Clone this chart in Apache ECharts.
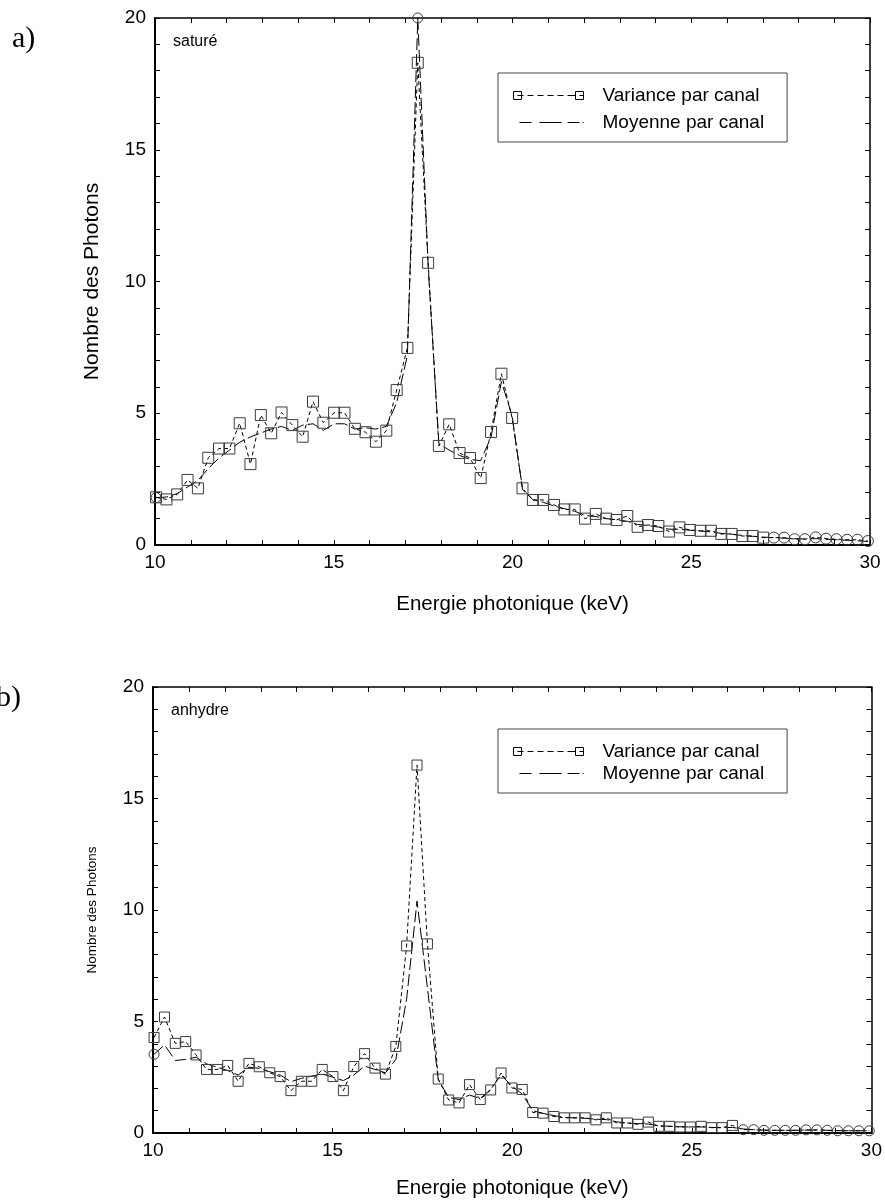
<!DOCTYPE html>
<html>
<head>
<meta charset="utf-8">
<script src="https://cdn.jsdelivr.net/npm/echarts@6/dist/echarts.min.js"></script>
<style>
  html, body { margin: 0; padding: 0; background: #fff; }
  #chart { width: 885px; height: 1200px; }
</style>
</head>
<body>
<div id="chart"></div>
<script>
// Channel energies (keV)
const energies = [
  10.03, 10.32, 10.62, 10.91, 11.20, 11.49, 11.79, 12.08, 12.37, 12.67,
  12.96, 13.25, 13.54, 13.84, 14.13, 14.42, 14.71, 15.01, 15.30, 15.59,
  15.89, 16.18, 16.47, 16.76, 17.06, 17.35, 17.64, 17.94, 18.23, 18.52,
  18.81, 19.11, 19.40, 19.69, 19.99, 20.28, 20.57, 20.86, 21.16, 21.45,
  21.74, 22.03, 22.33, 22.62, 22.91, 23.21, 23.50, 23.79, 24.08, 24.38,
  24.67, 24.96, 25.26, 25.55, 25.84, 26.13, 26.43, 26.72, 27.01, 27.31,
  27.60, 27.89, 28.18, 28.48, 28.77, 29.06, 29.36, 29.65, 29.94
];

// a) saturé
const satureVariance = [
  1.81, 1.73, 1.92, 2.47, 2.15, 3.31, 3.66, 3.66, 4.62, 3.07,
  4.93, 4.24, 5.03, 4.55, 4.11, 5.44, 4.64, 5.02, 5.02, 4.41,
  4.28, 3.92, 4.34, 5.88, 7.48, 18.30, 10.71, 3.76, 4.58, 3.49,
  3.30, 2.54, 4.29, 6.50, 4.82, 2.15, 1.71, 1.71, 1.52, 1.35,
  1.35, 1.00, 1.18, 1.00, 0.95, 1.10, 0.69, 0.76, 0.72, 0.51,
  0.67, 0.57, 0.54, 0.54, 0.42, 0.42, 0.34, 0.34, 0.28, 0.28,
  0.28, 0.22, 0.22, 0.29, 0.24, 0.22, 0.20, 0.20, 0.15
];
const satureMoyenne = [
  1.80, 1.82, 1.95, 2.20, 2.45, 2.90, 3.30, 3.60, 3.90, 4.10,
  4.25, 4.40, 4.50, 4.35, 4.55, 4.60, 4.35, 4.60, 4.60, 4.40,
  4.45, 4.40, 4.50, 5.40, 7.20, 20.00, 10.60, 3.85, 3.60, 3.40,
  3.25, 3.20, 4.10, 6.20, 4.90, 2.10, 1.72, 1.62, 1.48, 1.38,
  1.28, 1.12, 1.08, 1.00, 0.96, 0.90, 0.78, 0.74, 0.68, 0.60,
  0.60, 0.56, 0.53, 0.50, 0.44, 0.41, 0.36, 0.33, 0.30, 0.28,
  0.26, 0.24, 0.23, 0.24, 0.22, 0.20, 0.18, 0.16, 0.13
];

// b) anhydre
const anhydreVariance = [
  4.28, 5.20, 4.02, 4.10, 3.50, 2.85, 2.85, 3.03, 2.32, 3.12,
  2.97, 2.70, 2.53, 1.90, 2.32, 2.32, 2.85, 2.53, 1.90, 2.98,
  3.56, 2.91, 2.64, 3.88, 8.39, 16.50, 8.48, 2.42, 1.48, 1.35,
  2.17, 1.50, 1.93, 2.69, 2.02, 1.95, 0.92, 0.89, 0.74, 0.68,
  0.68, 0.68, 0.59, 0.68, 0.45, 0.45, 0.39, 0.49, 0.30, 0.30,
  0.27, 0.27, 0.30, 0.24, 0.24, 0.34, 0.15, 0.15, 0.12, 0.12,
  0.12, 0.12, 0.14, 0.14, 0.12, 0.10, 0.10, 0.10, 0.10
];
const anhydreMoyenne = [
  3.53, 3.95, 3.25, 3.30, 3.40, 3.10, 2.95, 2.80, 2.60, 2.95,
  2.90, 2.75, 2.60, 2.30, 2.45, 2.55, 2.65, 2.50, 2.35, 2.60,
  3.00, 2.85, 2.70, 3.30, 6.00, 10.40, 6.50, 2.40, 1.60, 1.50,
  1.70, 1.55, 1.95, 2.60, 2.10, 1.75, 1.00, 0.88, 0.78, 0.70,
  0.68, 0.66, 0.62, 0.60, 0.50, 0.45, 0.42, 0.40, 0.33, 0.30,
  0.28, 0.27, 0.27, 0.25, 0.24, 0.25, 0.18, 0.15, 0.13, 0.12,
  0.12, 0.12, 0.13, 0.13, 0.12, 0.11, 0.10, 0.10, 0.10
];

// Tick labels
const xTickLabels = [10, 15, 20, 25, 30];
const yTickLabels = [0, 5, 10, 15, 20];

const xMin = xTickLabels[0], xMax = xTickLabels[xTickLabels.length - 1];
const yMin = yTickLabels[0], yMax = yTickLabels[yTickLabels.length - 1];
const xStep = xTickLabels[1] - xTickLabels[0];
const yStep = yTickLabels[1] - yTickLabels[0];

const SANS = '"Liberation Sans", Arial, sans-serif';
const SERIF = '"Liberation Serif", "Times New Roman", serif';

const panels = [
  { grid: { left: 155, top: 18, width: 715, height: 527 },
    name: 'saturé', variance: satureVariance, moyenne: satureMoyenne,
    circleFrom: 27.2, markSize: 11,
    xNameGap: 49, yNameGap: 52, yNameSize: 21,
    legendTop: 73, legendPadding: [13, 23, 10, 15], legendGap: 8 },
  { grid: { left: 153, top: 687, width: 719, height: 449 },
    name: 'anhydre', variance: anhydreVariance, moyenne: anhydreMoyenne,
    circleFrom: 26.3, markSize: 10,
    xNameGap: 45, yNameGap: 54, yNameSize: 13.5,
    legendTop: 729, legendPadding: [13, 23, 10, 15], legendGap: 3 }
];

const pairs = vals => energies.map((e, i) => [e, vals[i]]);

const grids = [], xAxes = [], yAxes = [], series = [], legends = [], graphics = [];

const tickCommon = {
  axisTick: { show: true, inside: true, length: 5, lineStyle: { color: '#000', width: 1 } },
  minorTick: { show: true, splitNumber: 5, length: 5, lineStyle: { color: '#000', width: 1 } },
  splitLine: { show: false },
  minorSplitLine: { show: false }
};

panels.forEach((p, gi) => {
  grids.push(Object.assign({ containLabel: false }, p.grid));
  const ax = gi * 2;

  // bottom / top x axes
  xAxes.push(Object.assign({
    type: 'value', gridIndex: gi, position: 'bottom', min: xMin, max: xMax, interval: xStep,
    axisLine: { show: true, onZero: false, lineStyle: { color: '#000', width: 2 } },
    axisLabel: { show: true, color: '#000', fontSize: 19, fontFamily: SANS, margin: 8 },
    name: 'Energie photonique (keV)', nameLocation: 'middle', nameGap: p.xNameGap,
    nameTextStyle: { color: '#000', fontSize: 20.5, fontFamily: SANS }
  }, tickCommon));
  xAxes.push(Object.assign({
    type: 'value', gridIndex: gi, position: 'top', min: xMin, max: xMax, interval: xStep,
    axisLine: { show: true, onZero: false, lineStyle: { color: '#000', width: 1.5 } },
    axisLabel: { show: false }
  }, tickCommon));

  // left / right y axes
  yAxes.push(Object.assign({
    type: 'value', gridIndex: gi, position: 'left', min: yMin, max: yMax, interval: yStep,
    axisLine: { show: true, onZero: false, lineStyle: { color: '#000', width: 2 } },
    axisLabel: { show: true, color: '#000', fontSize: 19, fontFamily: SANS, margin: 9 },
    name: 'Nombre des Photons', nameLocation: 'middle', nameGap: p.yNameGap,
    nameTextStyle: { color: '#000', fontSize: p.yNameSize, fontFamily: SANS }
  }, tickCommon));
  yAxes.push(Object.assign({
    type: 'value', gridIndex: gi, position: 'right', min: yMin, max: yMax, interval: yStep,
    axisLine: { show: true, onZero: false, lineStyle: { color: '#000', width: 1.5 } },
    axisLabel: { show: false }
  }, tickCommon));

  // Variance per channel: short dashes, hollow square markers
  series.push({
    type: 'line', name: 'Variance par canal', xAxisIndex: ax, yAxisIndex: ax,
    data: pairs(p.variance),
    symbol: v => (v[0] >= p.circleFrom ? 'circle' : 'rect'),
    symbolSize: p.markSize,
    lineStyle: { color: '#000', width: 1, type: [4, 3] },
    itemStyle: { color: 'rgba(255,255,255,0)', borderColor: '#3c3c3c', borderWidth: 1 },
    emphasis: { disabled: true }, z: 3
  });

  // Mean per channel: long dashes, markers only at the edges of the range
  series.push({
    type: 'line', name: 'Moyenne par canal', xAxisIndex: ax, yAxisIndex: ax,
    data: pairs(p.moyenne),
    symbol: (v, prm) => (prm.dataIndex === 0 || v[1] >= yMax ? 'circle' : 'none'),
    symbolSize: 10,
    lineStyle: { color: '#000', width: 1, type: [12, 4] },
    itemStyle: { color: 'rgba(255,255,255,0)', borderColor: '#3c3c3c', borderWidth: 1 },
    emphasis: { disabled: true }, z: 2
  });

  legends.push({
    orient: 'vertical', left: 498, top: p.legendTop,
    width: 300,
    padding: p.legendPadding,
    borderColor: '#444', borderWidth: 1, backgroundColor: '#fff',
    itemWidth: 70, itemHeight: 10, itemGap: p.legendGap,
    selectedMode: false,
    textStyle: { color: '#000', fontSize: 19, fontFamily: SANS, padding: [0, 0, 0, 14] },
    itemStyle: { color: 'rgba(255,255,255,0)', borderColor: '#000', borderWidth: 1 },
    data: [
      { name: 'Variance par canal',
        icon: 'path://M0,1h8v8h-8zM4,5h6M14,5h6M24,5h6M34,5h6M44,5h6M54,5h8M62,1h8v8h-8zM66,5h4' },
      { name: 'Moyenne par canal',
        icon: 'path://M0,0M70,10M6,5h12M26,5h22M54,5h12M69,5h1' }
    ]
  });

  graphics.push({
    type: 'text', x: p.grid.left + 18, y: p.grid.top + 16,
    style: { text: p.name, font: '16px ' + SANS, fill: '#000' }
  });
});

graphics.push({ type: 'text', x: 12, y: 24, style: { text: 'a)', font: '30px ' + SERIF, fill: '#000' } });
graphics.push({ type: 'text', x: -4, y: 683, style: { text: 'b)', font: '30px ' + SERIF, fill: '#000' } });

const chart = echarts.init(document.getElementById('chart'), null, { renderer: 'canvas' });
chart.setOption({
  animation: false,
  backgroundColor: '#fff',
  grid: grids,
  xAxis: xAxes,
  yAxis: yAxes,
  legend: legends,
  series: series,
  graphic: graphics
});
</script>
</body>
</html>
